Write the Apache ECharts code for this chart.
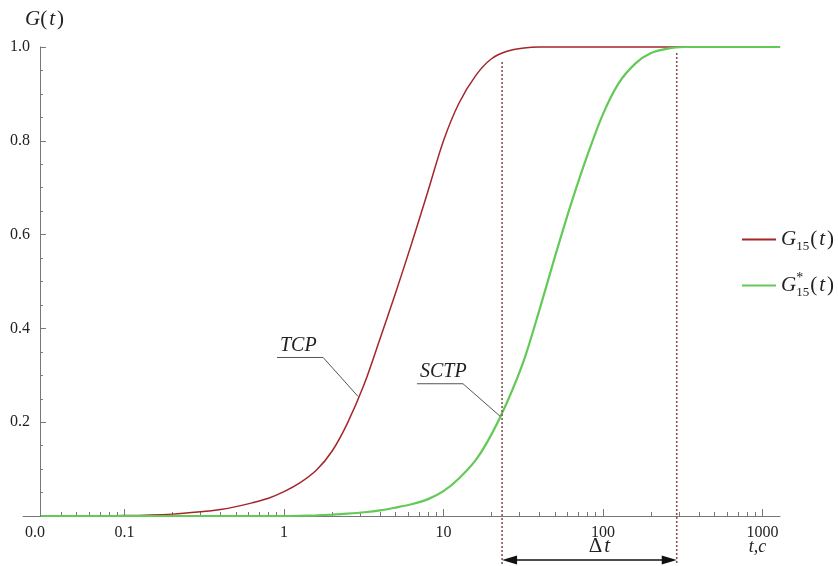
<!DOCTYPE html>
<html><head><meta charset="utf-8">
<script src="https://cdn.jsdelivr.net/npm/echarts@6/dist/echarts.min.js"></script>
<style>html,body{margin:0;padding:0;background:#fff}#c{width:838px;height:566px}</style>
</head><body><div id="c"></div>
<script>
// ---- data (t in seconds, G probability) ----
const tTCP = [0.03, 0.05, 0.1, 0.2, 0.3, 0.4, 0.5, 0.63, 0.8, 1.0, 1.25, 1.6, 2.0, 2.5, 3.2, 4.0, 5.0, 6.3, 8.0, 10, 12.5, 16, 20, 25, 32, 40, 50, 100, 1290];
const gTCP = [0, 0, 0.0008, 0.004, 0.009, 0.014, 0.020, 0.028, 0.038, 0.052, 0.070, 0.098, 0.138, 0.198, 0.283, 0.378, 0.475, 0.580, 0.693, 0.800, 0.880, 0.940, 0.975, 0.991, 0.998, 1.0, 1.0, 1.0, 1.0];
const tSCTP = [0.03, 0.5, 1.0, 1.25, 1.6, 2.0, 2.5, 3.2, 4.0, 5.0, 6.3, 8.0, 10, 12.5, 16, 20, 25, 32, 40, 50, 63, 80, 100, 125, 160, 200, 250, 320, 400, 1290];
const gSCTP = [0, 0, 0, 0.0005, 0.0015, 0.003, 0.005, 0.008, 0.012, 0.018, 0.025, 0.036, 0.053, 0.080, 0.120, 0.174, 0.242, 0.333, 0.440, 0.553, 0.665, 0.770, 0.857, 0.922, 0.965, 0.987, 0.996, 1.0, 1.0, 1.0];

const xAxisMinT = 0.0231, xAxisMaxT = 1288, yAxisAtT = 0.0295;
const xLabelT = [0.0275, 0.1, 1, 10, 100, 1000];
const xLabelText = ['0.0', '0.1', '1', '10', '100', '1000'];
const xMajorTickT = [0.1, 1, 10, 100, 1000];
const xMinorTickT = [];
[0.01, 0.1, 1, 10, 100].forEach(d => { for (let k = 2; k <= 9; k++) { const v = k * d; if (v >= 0.04 && v < 1000) xMinorTickT.push(v); } });
const yTickLabels = ['', '0.2', '0.4', '0.6', '0.8', '1.0'];

// Δt markers
const dtStartT = 23.3, dtEndT = 290;
const dtStartTopG = 0.968, dtEndTopG = 0.987;
// annotations: underline [t1, t2, G], pointer to [t, G]
const tcpNote = {text: 'TCP', under: [0.904, 1.76, 0.338], to: [2.91, 0.255]};
const sctpNote = {text: 'SCTP', under: [6.82, 13.25, 0.282], to: [22.6, 0.213]};

const L = Math.log10;
const RED = '#a3262b', GREEN = '#63c957', AX = '#777', TXT = '#222';
const SERIF = '"Liberation Serif","DejaVu Serif",serif';
const gridLeft = 23, gridTop = 47, gridRight = 58, gridBottom = 50;

const richLegend = {
  g: {fontFamily: SERIF, fontStyle: 'italic', fontSize: 21, lineHeight: 28, color: TXT},
  s: {fontFamily: SERIF, fontSize: 13, lineHeight: 14, verticalAlign: 'bottom', color: TXT, padding: [0, 1, 0, 0]},
  st: {fontFamily: SERIF, fontSize: 14, lineHeight: 14, verticalAlign: 'top', color: TXT, width: 0},
  p: {fontFamily: SERIF, fontSize: 21, lineHeight: 28, color: TXT},
  i: {fontFamily: SERIF, fontStyle: 'italic', fontSize: 21, lineHeight: 28, color: TXT, padding: [0, 2, 0, 2]}
};
const legendText = {
  'G15': '{g|G}{s|15}{p|(}{i|t}{p|)}',
  'G15s': '{g|G}{st|*}{s|15}{p|(}{i|t}{p|)}'
};

const option = {
  backgroundColor: '#fff',
  animation: false,
  title: {
    text: '{g|G}{p|(}{i|t}{p|)}', left: 20, top: 4,
    textStyle: {fontWeight: 'normal', rich: {
      g: {fontFamily: SERIF, fontStyle: 'italic', fontWeight: 'normal', fontSize: 21, color: TXT},
      p: {fontFamily: SERIF, fontWeight: 'normal', fontSize: 21, color: TXT},
      i: {fontFamily: SERIF, fontStyle: 'italic', fontWeight: 'normal', fontSize: 21, color: TXT, padding: [0, 2, 0, 2]}
    }}
  },
  legend: {
    orient: 'vertical', left: 737, top: 224, itemGap: 18, itemWidth: 34, itemHeight: 2,
    data: [{name: 'G15', icon: 'rect'}, {name: 'G15s', icon: 'rect'}],
    formatter: n => legendText[n],
    textStyle: {rich: richLegend}
  },
  grid: {left: gridLeft, top: gridTop, right: gridRight, bottom: gridBottom},
  xAxis: [{
    type: 'value', min: L(xAxisMinT), max: L(xAxisMaxT), position: 'bottom',
    axisLine: {onZero: false, lineStyle: {color: AX, width: 1}},
    axisTick: {show: true, inside: true, length: 7, lineStyle: {color: AX}, customValues: xMajorTickT.map(L)},
    axisLabel: {
      customValues: xLabelT.map(L), margin: 9, color: TXT, fontFamily: SERIF, fontSize: 16,
      formatter: v => { const i = xLabelT.findIndex(t => Math.abs(L(t) - v) < 1e-6); return i >= 0 ? xLabelText[i] : ''; }
    },
    splitLine: {show: false}
  }, {
    type: 'value', min: L(xAxisMinT), max: L(xAxisMaxT), position: 'bottom',
    axisLine: {show: false, onZero: false},
    axisTick: {show: true, inside: true, length: 4, lineStyle: {color: AX}, customValues: xMinorTickT.map(L)},
    axisLabel: {show: false},
    splitLine: {show: false}
  }],
  yAxis: {
    type: 'value', min: 0, max: 1, interval: 0.2, offset: -17, position: 'left',
    axisLine: {show: true, onZero: false, lineStyle: {color: AX, width: 1}},
    axisTick: {show: true, inside: true, length: 6, lineStyle: {color: AX}},
    minorTick: {show: true, splitNumber: 4, length: 3, lineStyle: {color: AX}},
    axisLabel: {margin: 10, color: TXT, fontFamily: SERIF, fontSize: 16,
      formatter: v => yTickLabels[Math.round(v / 0.2)] || ''},
    splitLine: {show: false}
  },
  series: [{
    name: 'G15', type: 'line', symbol: 'none', smooth: 0.3, clip: false,
    lineStyle: {color: RED, width: 1.5}, itemStyle: {color: RED},
    data: tTCP.map((t, i) => [L(t), gTCP[i]])
  }, {
    name: 'G15s', type: 'line', symbol: 'none', smooth: 0.3, clip: false,
    lineStyle: {color: GREEN, width: 2.2}, itemStyle: {color: GREEN},
    data: tSCTP.map((t, i) => [L(t), gSCTP[i]])
  }]
};

const chart = echarts.init(document.getElementById('c'));
chart.setOption(option);
const P = (t, g) => chart.convertToPixel({xAxisIndex: 0, yAxisIndex: 0}, [L(t), g]);
const yAxisPx = P(yAxisAtT, 0)[0];
chart.setOption({yAxis: {offset: -(yAxisPx - gridLeft)}});

const axisY = P(1, 0)[1];
const g = [];
const DOT = '#8b5151';
[[dtStartT, dtStartTopG], [dtEndT, dtEndTopG]].forEach(([t, top]) => {
  const a = P(t, top);
  g.push({type: 'line', shape: {x1: a[0], y1: a[1], x2: a[0], y2: axisY + 48}, style: {stroke: DOT, lineWidth: 1.6, lineDash: [2, 2]}, z: 10});
});
const xa = P(dtStartT, 0)[0], xb = P(dtEndT, 0)[0], ya = axisY + 44;
g.push({type: 'line', shape: {x1: xa + 8, y1: ya, x2: xb - 8, y2: ya}, style: {stroke: '#111', lineWidth: 1.4}, z: 11});
g.push({type: 'polygon', shape: {points: [[xa, ya], [xa + 15, ya - 4.5], [xa + 15, ya + 4.5]]}, style: {fill: '#111'}, z: 11});
g.push({type: 'polygon', shape: {points: [[xb, ya], [xb - 15, ya - 4.5], [xb - 15, ya + 4.5]]}, style: {fill: '#111'}, z: 11});
g.push({type: 'text', x: (xa + xb) / 2 + 10, y: ya - 14, style: {
  text: '{d|Δ}{t|t}', align: 'center', verticalAlign: 'middle',
  rich: {d: {fontFamily: SERIF, fontSize: 21, fill: TXT}, t: {fontFamily: SERIF, fontStyle: 'italic', fontSize: 21, fill: TXT, padding: [0, 0, 0, 2]}}
}, z: 11});
const tc = P(1000, 0);
g.push({type: 'text', x: tc[0] - 5, y: axisY + 31, style: {
  text: 't,c', align: 'center', verticalAlign: 'middle', fontFamily: SERIF, fontStyle: 'italic', fontSize: 18, fill: TXT
}, z: 11});
[tcpNote, sctpNote].forEach(n => {
  const u1 = P(n.under[0], n.under[2]), u2 = P(n.under[1], n.under[2]), e = P(n.to[0], n.to[1]);
  g.push({type: 'polyline', shape: {points: [u1, u2, e]}, style: {stroke: '#555', lineWidth: 1, fill: null}, z: 9});
  g.push({type: 'text', x: u1[0] + 3, y: u1[1] - 2, style: {
    text: n.text, align: 'left', verticalAlign: 'bottom', fontFamily: SERIF, fontStyle: 'italic', fontSize: 20, fill: TXT
  }, z: 9});
});
chart.setOption({graphic: g});
</script></body></html>
